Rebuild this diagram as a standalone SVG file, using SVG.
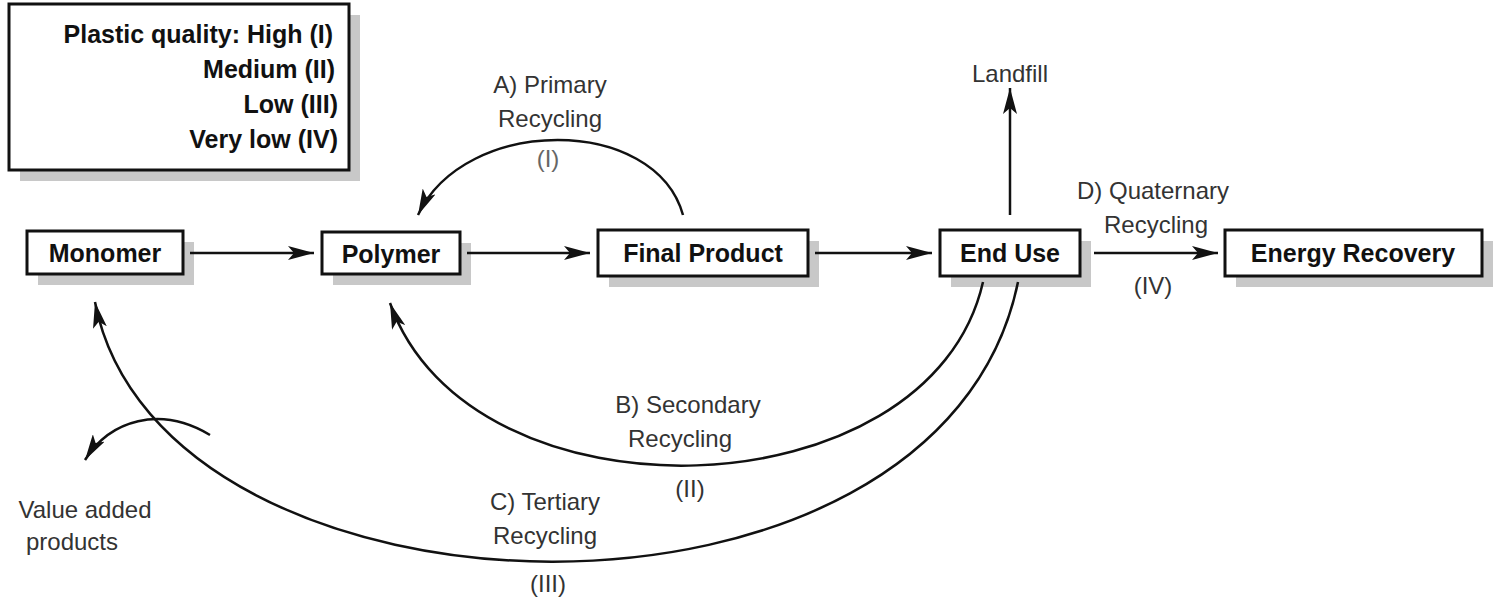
<svg xmlns="http://www.w3.org/2000/svg" width="1496" height="607" viewBox="0 0 1496 607">
<defs>
<style>
.box{fill:#fff;stroke:#111;stroke-width:3}
.sh{fill:#c8c8c8}
.bt{font-family:"Liberation Sans",Arial,sans-serif;font-weight:bold;font-size:25px;fill:#111;text-anchor:middle}
.lt{font-family:"Liberation Sans",Arial,sans-serif;font-size:24px;fill:#333;text-anchor:middle}
.ln{fill:none;stroke:#111;stroke-width:2.5}
</style>
<marker id="ah" viewBox="0 0 26 14" refX="26" refY="7" markerWidth="26" markerHeight="14" markerUnits="userSpaceOnUse" orient="auto"><path d="M0,0 L26,7 L0,14 L6,7 z" fill="#111"/></marker>
</defs>
<rect width="1496" height="607" fill="#fff"/>
<g id="legend">
<rect class="sh" x="20" y="15" width="340" height="166"/>
<rect class="box" x="9" y="4" width="340" height="166"/>
<text class="bt" style="text-anchor:end" x="333" y="43">Plastic quality: High (I)</text>
<text class="bt" style="text-anchor:end" x="335" y="78">Medium (II)</text>
<text class="bt" style="text-anchor:end" x="338" y="113">Low (III)</text>
<text class="bt" style="text-anchor:end" x="338" y="148">Very low (IV)</text>
</g>
<g id="monomer"><rect class="sh" x="38" y="242" width="156" height="43"/><rect class="box" x="27" y="231" width="156" height="43"/><text class="bt" x="105" y="262">Monomer</text></g>
<g id="polymer"><rect class="sh" x="333" y="243" width="138" height="42"/><rect class="box" x="322" y="232" width="138" height="42"/><text class="bt" x="391" y="263">Polymer</text></g>
<g id="final"><rect class="sh" x="609" y="241" width="210" height="46"/><rect class="box" x="598" y="230" width="210" height="46"/><text class="bt" x="703" y="262">Final Product</text></g>
<g id="enduse"><rect class="sh" x="951" y="241" width="140" height="46"/><rect class="box" x="940" y="230" width="140" height="46"/><text class="bt" x="1010" y="262">End Use</text></g>
<g id="energy"><rect class="sh" x="1236" y="241" width="257" height="46"/><rect class="box" x="1225" y="230" width="257" height="46"/><text class="bt" x="1353" y="262">Energy Recovery</text></g>
<g id="connectors">
<line class="ln" x1="190" y1="253" x2="314" y2="253" marker-end="url(#ah)"/>
<line class="ln" x1="467" y1="253" x2="590" y2="253" marker-end="url(#ah)"/>
<line class="ln" x1="815" y1="253" x2="932" y2="253" marker-end="url(#ah)"/>
<line class="ln" x1="1094" y1="253" x2="1218" y2="253" marker-end="url(#ah)"/>
<line class="ln" x1="1010" y1="215" x2="1010" y2="88" marker-end="url(#ah)"/>
<path class="ln" d="M683,215 C655,115 465,115 418,215" marker-end="url(#ah)"/>
<path class="ln" d="M983,282 C930,516 470,530 390,303" marker-end="url(#ah)"/>
<path class="ln" d="M1018,282 C940,663 160,640 95,302" marker-end="url(#ah)"/>
<path class="ln" d="M210,435 C160,405 110,420 85,460" marker-end="url(#ah)"/>
</g>
<g id="labels">
<text class="lt" x="550" y="93">A) Primary</text>
<text class="lt" x="550" y="127">Recycling</text>
<text class="lt" x="548" y="167" style="fill:#666">(I)</text>
<text class="lt" x="1010" y="82">Landfill</text>
<text class="lt" x="1153" y="199">D) Quaternary</text>
<text class="lt" x="1156" y="233">Recycling</text>
<text class="lt" x="1153" y="294">(IV)</text>
<text class="lt" x="688" y="413">B) Secondary</text>
<text class="lt" x="680" y="447">Recycling</text>
<text class="lt" x="690" y="497">(II)</text>
<text class="lt" x="545" y="510">C) Tertiary</text>
<text class="lt" x="545" y="544">Recycling</text>
<text class="lt" x="548" y="592">(III)</text>
<text class="lt" x="85" y="518">Value added</text>
<text class="lt" x="72" y="550">products</text>
</g>
</svg>
